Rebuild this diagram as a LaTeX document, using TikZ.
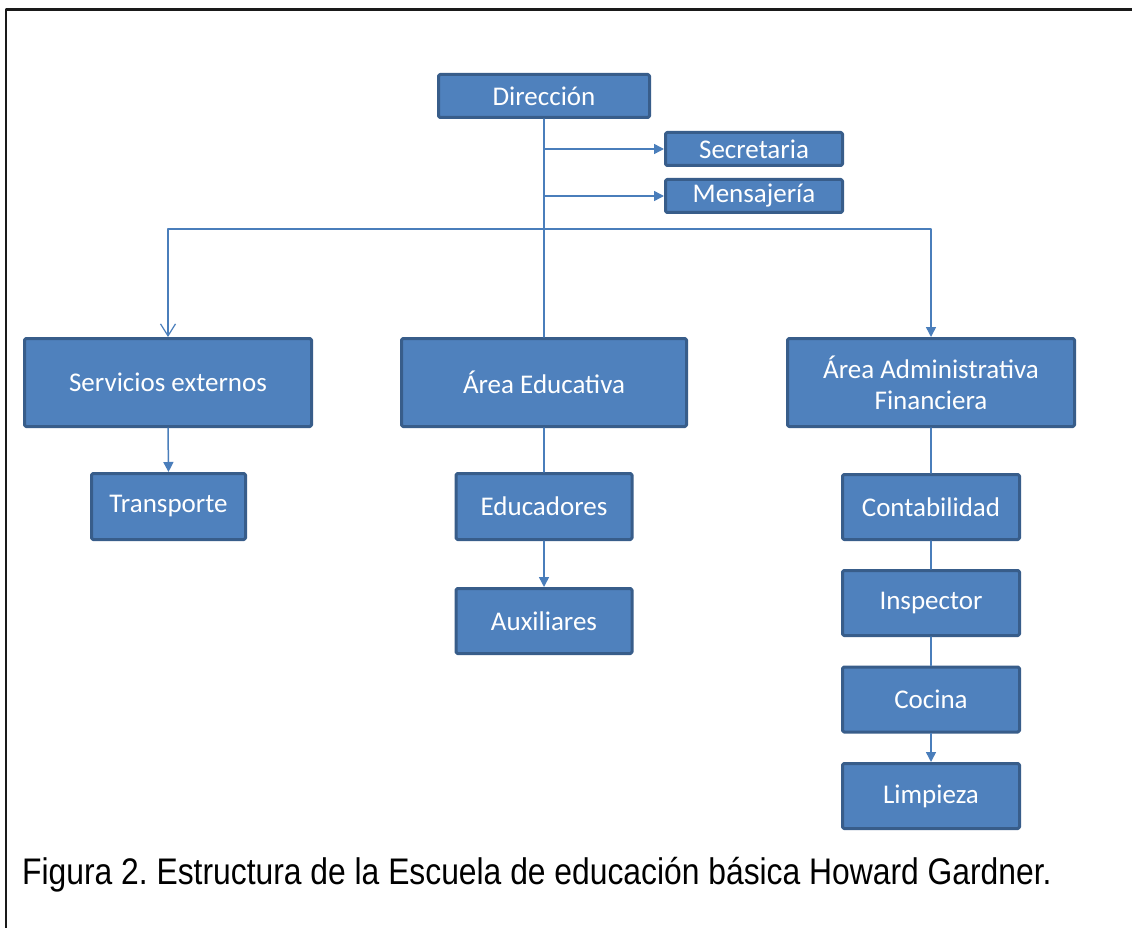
\documentclass[tikz,border=0pt]{standalone}
\usepackage{fontspec}
\usepackage{graphicx}
\setmainfont{Carlito}
\newfontfamily\capfont{Liberation Sans}
\usetikzlibrary{arrows.meta,positioning}
\definecolor{orgBlue}{HTML}{4F81BD}
\definecolor{orgEdge}{HTML}{385D8A}
\definecolor{orgLine}{HTML}{4A7EBB}
\definecolor{orgFrame}{HTML}{1A1A1A}
\frenchspacing

\begin{document}
\begin{tikzpicture}[x=1pt,y=-1pt,line cap=round,line join=round]
\useasboundingbox[fill=white] (0,0) rectangle (1132,928);
\draw[orgFrame,line width=2.5pt,line cap=rect] (6,928) -- (6,9.5) -- (1132,9.5);
\tikzset{orgbox/.style={draw=orgEdge,fill=orgBlue,line width=3pt,rounded corners=1.5pt,text=white,font=\fontsize{27}{31}\selectfont,align=center,inner sep=0pt},
 bigbox/.style={orgbox,minimum width=287pt,minimum height=88pt},
 smallbox/.style={orgbox,minimum width=177pt,minimum height=65pt},
 conn/.style={draw=orgLine,line width=1.5pt},
 tri/.style={-{Triangle[length=10pt,width=10pt]}},
 barb/.style={-{Straight Barb[length=12pt,width=15pt,line width=1.2pt]}}}
\node[orgbox,minimum width=211pt,minimum height=43pt] (dir) at (544,96) {Dirección};
\node[orgbox,minimum width=177pt,minimum height=33pt] (secr) at (754,149) {Secretaria};
\node[orgbox,minimum width=177pt,minimum height=33pt] (mens) at (754,196) {Mensajería};
\node[bigbox] (serv) at (168,382.5) {Servicios externos};
\node[bigbox,minimum width=285pt] (edu) at (544,382.5) {Área Educativa};
\node[bigbox] (adm) at (931,382.5) {Área Administrativa\\Financiera};
\node[smallbox,minimum width=154pt,minimum height=66pt] (transp) at (168.5,506.5) {Transporte};
\node[smallbox,minimum width=176pt,minimum height=66pt] (educ) at (544,506.5) {Educadores};
\node[smallbox,minimum width=176pt] (aux) at (544,621) {Auxiliares};
\node[smallbox] (conta) at (931,507) {Contabilidad};
\node[smallbox] (insp) at (931,603) {Inspector};
\node[smallbox] (coc) at (931,699.5) {Cocina};
\node[smallbox] (limp) at (931,796) {Limpieza};
\coordinate (bus) at (544,229);
\draw[conn] (dir.south) -- (edu.north);
\draw[conn,tri] (dir.south |- secr.west) -- (secr.west); \draw[conn,tri] (dir.south |- mens.west) -- (mens.west);
\draw[conn,barb] (bus) -| (serv.north); \draw[conn,tri] (bus) -| (adm.north);
\draw[conn,tri] (serv.south) -- (transp.north);
\draw[conn] (edu.south) -- (educ.north); \draw[conn,tri] (educ.south) -- (aux.north);
\draw[conn] (adm.south) -- (conta.north); \draw[conn] (conta.south) -- (insp.north); \draw[conn] (insp.south) -- (coc.north); \draw[conn,tri] (coc.south) -- (limp.north);
\node[anchor=base west,inner sep=0pt,font=\capfont\fontsize{37}{40}\selectfont] (cap) at (22,884) {\scalebox{0.86}[1]{Figura 2. Estructura de la Escuela de educación básica Howard Gardner.}};
\end{tikzpicture}
\end{document}
